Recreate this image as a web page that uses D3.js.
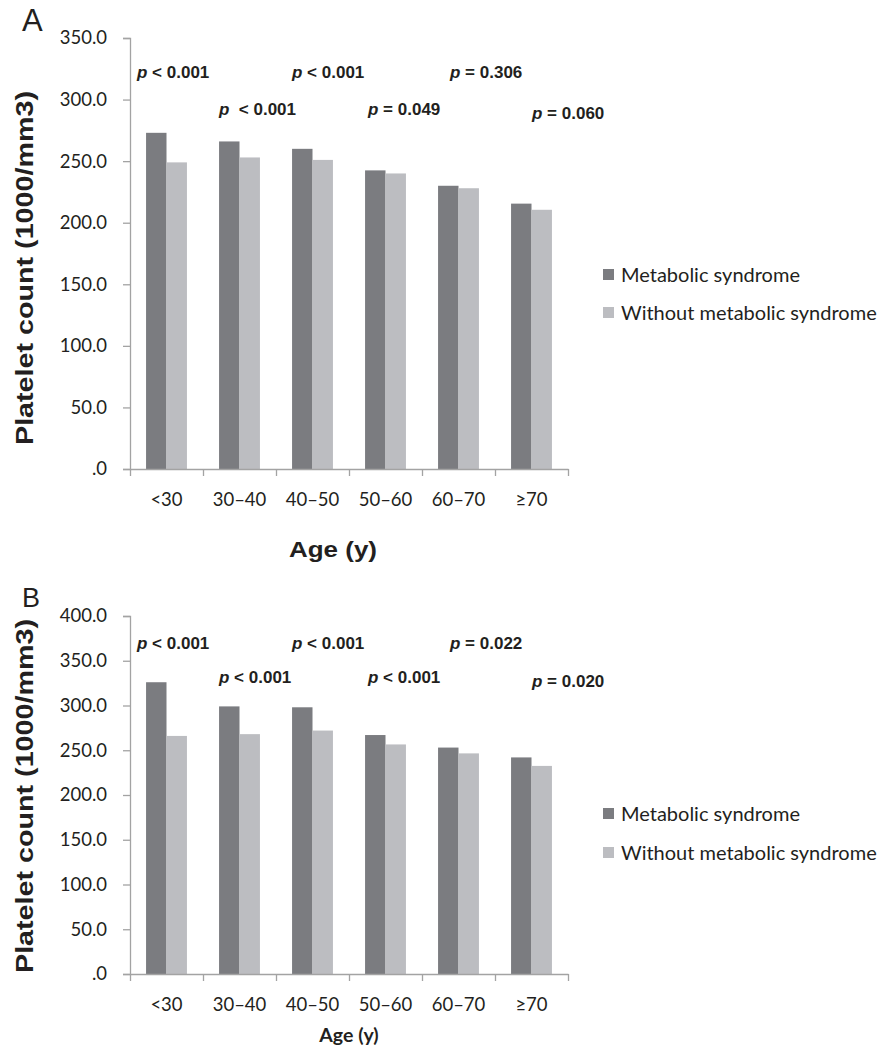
<!DOCTYPE html>
<html>
<head>
<meta charset="utf-8">
<script src="https://cdn.jsdelivr.net/npm/d3@7"></script>
<style>
  html, body { margin: 0; padding: 0; background: #fff; }
  svg { display: block; }
</style>
</head>
<body>
<svg id="chart" width="882" height="1048"></svg>
<script>
// ---------- DATA ----------
const categories = ["<30", "30\u201340", "40\u201350", "50\u201360", "60\u201370", "\u226570"];
const seriesNames = ["Metabolic syndrome", "Without metabolic syndrome"];

const panelA_metabolic = [273, 266, 260, 242.5, 230, 215.5];
const panelA_without   = [249, 253, 251, 240, 228, 210.5];
const panelA_pText     = ["< 0.001", "\u00a0< 0.001", "< 0.001", "= 0.049", "= 0.306", "= 0.060"];
const panelA_yTicks    = [0, 50, 100, 150, 200, 250, 300, 350];

const panelB_metabolic = [326, 299, 298, 267, 253, 242];
const panelB_without   = [266, 268, 272, 256.5, 246.5, 232.5];
const panelB_pText     = ["< 0.001", "< 0.001", "< 0.001", "< 0.001", "= 0.022", "= 0.020"];
const panelB_yTicks    = [0, 50, 100, 150, 200, 250, 300, 350, 400];

// ---------- STYLE / LAYOUT ----------
const colors = ["#7b7c80", "#bcbdc1"];
const axisColor = "#a3a3a3";
const textColor = "#231f20";
const tickFont = "Lato, 'Open Sans', sans-serif";
const boldFont = "'Liberation Sans', Arial, sans-serif";

const svg = d3.select("#chart");
svg.append("rect").attr("width", 882).attr("height", 1048).attr("fill", "#fff");

function fmt(v) { return v === 0 ? ".0" : d3.format(".1f")(v); }

function drawPanel(cfg) {
  const g = svg.append("g");
  const x = d3.scaleBand().domain(categories)
    .range([cfg.left, cfg.right]).paddingInner(0.44).paddingOuter(0.22);
  const xs = d3.scaleBand().domain(seriesNames).range([0, x.bandwidth()]);
  const xEdge = d3.scaleLinear().domain([0, categories.length]).range([cfg.left, cfg.right]);
  const y = d3.scaleLinear().domain([0, cfg.yMax]).range([cfg.bottom, cfg.top]);

  const series = [cfg.metabolic, cfg.without];

  // bars
  series.forEach((vals, si) => {
    g.selectAll(null).data(categories).enter().append("rect")
      .attr("x", d => x(d) + xs(seriesNames[si]))
      .attr("width", xs.bandwidth())
      .attr("y", (d, i) => y(vals[i]))
      .attr("height", (d, i) => y(0) - y(vals[i]))
      .attr("fill", colors[si]);
  });

  // y axis
  const yAxis = d3.axisLeft(y).tickValues(cfg.yTicks).tickFormat(fmt).tickSizeOuter(0).tickSize(7).tickPadding(16);
  const ya = g.append("g").attr("transform", `translate(${cfg.left},0)`).call(yAxis);
  ya.select(".domain").attr("stroke", axisColor).attr("stroke-width", 1.3);
  ya.selectAll(".tick line").attr("stroke", axisColor).attr("stroke-width", 1.3);
  ya.selectAll(".tick text").attr("fill", textColor)
    .style("font-family", tickFont).style("font-size", "18.5px");

  // x axis: line + boundary ticks
  const xa = g.append("g").attr("transform", `translate(0,${cfg.bottom})`)
    .call(d3.axisBottom(xEdge).tickValues(d3.range(categories.length + 1)).tickFormat("").tickSize(7).tickSizeOuter(0));
  xa.select(".domain").attr("stroke", axisColor).attr("stroke-width", 1.3);
  xa.selectAll(".tick line").attr("stroke", axisColor).attr("stroke-width", 1.3);

  // category labels
  g.selectAll(null).data(categories).enter().append("text")
    .attr("x", d => x(d) + x.bandwidth() / 2)
    .attr("y", cfg.bottom + 37)
    .attr("text-anchor", "middle")
    .attr("fill", textColor)
    .style("font-family", tickFont).style("font-size", "18.5px")
    .text(d => d);

  // p-value labels
  const pl = g.selectAll(null).data(categories).enter().append("text")
    .attr("x", (d, i) => xEdge(i) + cfg.pDx[i])
    .attr("y", (d, i) => cfg.pY[i % 2 === 0 ? 0 : 1] + (i === 5 ? cfg.pLastShift : 0))
    .attr("fill", textColor)
    .style("font-family", boldFont).style("font-size", "17px").style("font-weight", "bold")
    .attr("xml:space", "preserve");
  pl.append("tspan").style("font-style", "italic").text("p");
  pl.append("tspan").text((d, i) => " " + cfg.pText[i]);

  // panel letter
  g.append("text").attr("x", cfg.letterX).attr("y", cfg.letterY)
    .attr("fill", textColor)
    .style("font-family", boldFont).style("font-size", cfg.letterSize + "px")
    .text(cfg.letter);

  // y title
  g.append("text")
    .attr("transform", `translate(33,${cfg.yTitleC}) rotate(-90)`)
    .attr("text-anchor", "middle")
    .attr("fill", textColor)
    .attr("textLength", 354).attr("lengthAdjust", "spacingAndGlyphs")
    .style("font-family", boldFont).style("font-size", "23px").style("font-weight", "bold")
    .text("Platelet count (1000/mm3)");

  // x title
  const xt = g.append("text")
    .attr("x", cfg.xTitleX)
    .attr("y", cfg.xTitleY)
    .attr("text-anchor", "middle")
    .attr("fill", textColor)
    .style("font-weight", "bold")
    .text("Age (y)");
  if (cfg.xTitleArial) {
    xt.style("font-family", boldFont).style("font-size", "22px")
      .attr("textLength", 88).attr("lengthAdjust", "spacingAndGlyphs");
  } else {
    xt.style("font-family", tickFont).style("font-size", "19.5px");
  }

  // legend
  const lg = g.append("g");
  seriesNames.forEach((name, i) => {
    const ly = cfg.legendY + i * cfg.legendGap;
    lg.append("rect").attr("x", 603).attr("y", ly - 6).attr("width", 11).attr("height", 11).attr("fill", colors[i]);
    lg.append("text").attr("x", 621).attr("y", ly + 7)
      .attr("fill", textColor)
      .style("font-family", tickFont).style("font-size", "20px")
      .text(name);
  });
}

drawPanel({
  letter: "A", letterX: 22, letterY: 31, letterSize: 31,
  left: 130, right: 568, top: 38, bottom: 469, yMax: 350,
  yTicks: panelA_yTicks,
  metabolic: panelA_metabolic, without: panelA_without,
  pText: panelA_pText, pDx: [7, 16, 16, 19, 28, 37], pY: [78, 115], pLastShift: 4,
  yTitleC: 268, xTitleX: 333, xTitleY: 557, xTitleArial: true,
  legendY: 275, legendGap: 38
});

drawPanel({
  letter: "B", letterX: 22, letterY: 607, letterSize: 27,
  left: 130, right: 568, top: 616, bottom: 974, yMax: 400,
  yTicks: panelB_yTicks,
  metabolic: panelB_metabolic, without: panelB_without,
  pText: panelB_pText, pDx: [7, 16, 16, 19, 28, 37], pY: [649, 683], pLastShift: 4,
  yTitleC: 796, xTitleX: 349, xTitleY: 1042, xTitleArial: false,
  legendY: 814, legendGap: 39
});
</script>
</body>
</html>
